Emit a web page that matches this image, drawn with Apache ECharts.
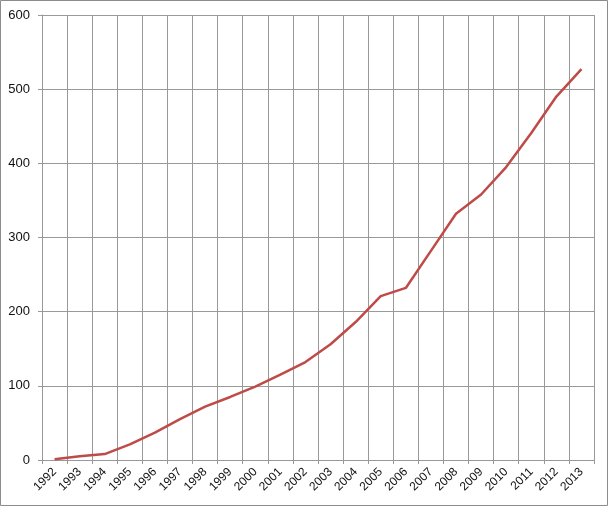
<!DOCTYPE html>
<html>
<head>
<meta charset="utf-8">
<script src="https://cdn.jsdelivr.net/npm/echarts@6/dist/echarts.min.js"></script>
<style>
html,body{margin:0;padding:0;background:#fff;}
#c{width:609px;height:508px;}
</style>
</head>
<body>
<div id="c"></div>
<script>
const years = ['1992','1993','1994','1995','1996','1997','1998','1999','2000','2001','2002','2003','2004','2005','2006','2007','2008','2009','2010','2011','2012','2013'];
const values = [1, 5, 8, 21, 37, 55, 72, 85, 99, 115, 132, 156, 186, 221, 232, 282, 332, 358, 395, 441, 490, 527];
const yTicks = {min: 0, max: 600, interval: 100};

const chart = echarts.init(document.getElementById('c'));
chart.setOption({
  animation: false,
  backgroundColor: '#fff',
  graphic: [{
    type: 'rect',
    shape: {x: 0.5, y: 0.5, width: 607, height: 505},
    style: {fill: 'none', stroke: '#8c8c8c', lineWidth: 1},
    silent: true
  }],
  grid: {left: 42, right: 15, top: 15, bottom: 48, containLabel: false},
  xAxis: {
    type: 'category',
    data: years,
    boundaryGap: true,
    axisLine: {show: true, lineStyle: {color: '#999', width: 1}},
    axisTick: {show: true, length: 4, alignWithLabel: false, lineStyle: {color: '#999'}},
    splitLine: {show: true, lineStyle: {color: '#999', width: 1}},
    axisLabel: {rotate: 45, interval: 0, margin: 10, fontSize: 12, fontFamily: 'Liberation Sans', color: '#111'}
  },
  yAxis: {
    type: 'value',
    min: yTicks.min, max: yTicks.max, interval: yTicks.interval,
    axisLine: {show: true, lineStyle: {color: '#999', width: 1}},
    axisTick: {show: true, length: 4, lineStyle: {color: '#999'}},
    splitLine: {show: true, lineStyle: {color: '#999', width: 1}},
    axisLabel: {margin: 12, fontSize: 13, fontFamily: 'Liberation Sans', color: '#111'}
  },
  series: [{
    type: 'line',
    data: values,
    symbol: 'none',
    lineStyle: {color: '#be4b48', width: 2.5},
    itemStyle: {color: '#be4b48'}
  }]
});
</script>
</body>
</html>
